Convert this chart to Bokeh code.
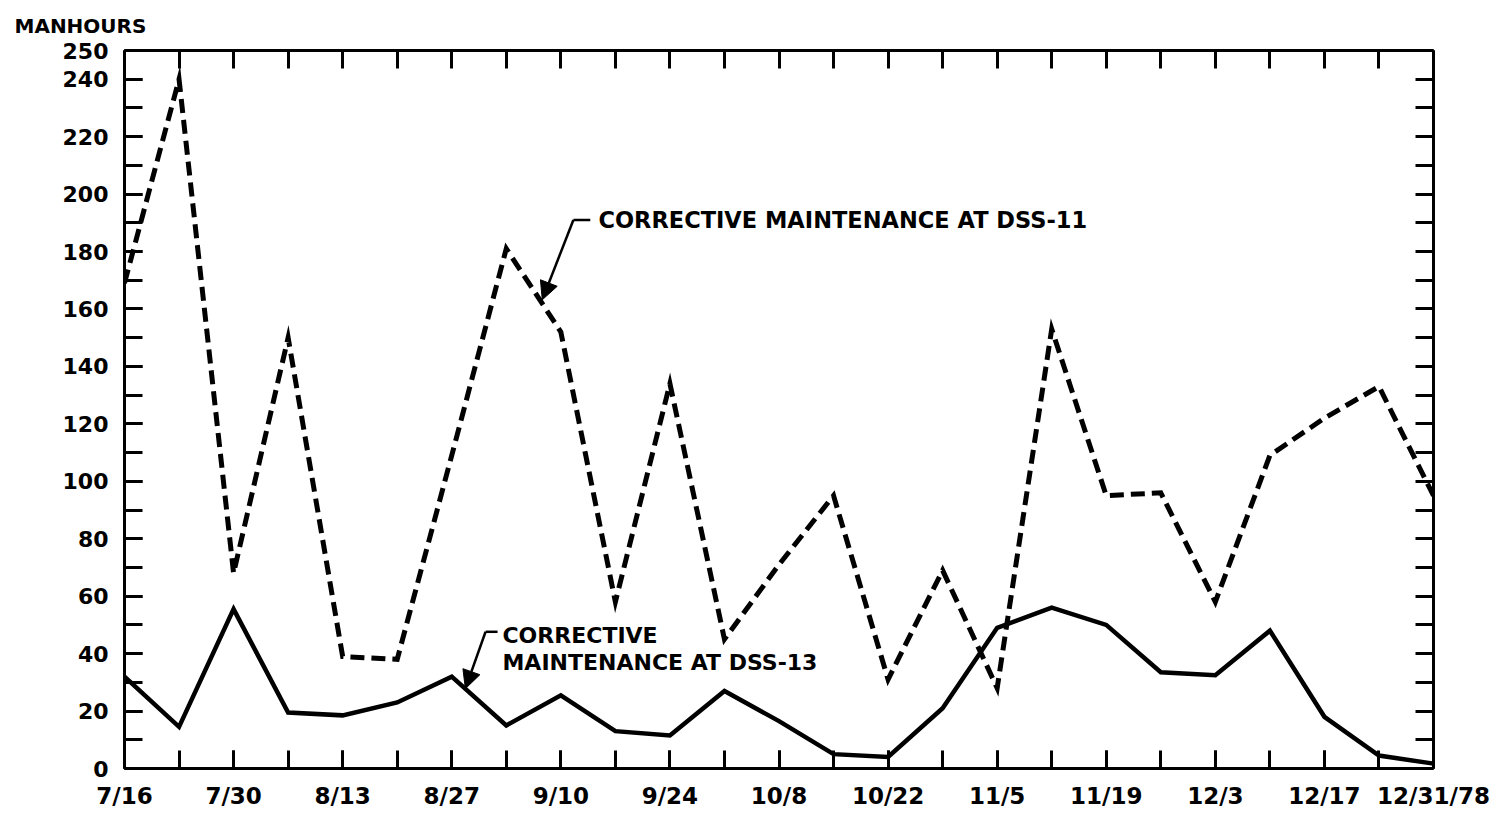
from bokeh.plotting import figure
from bokeh.models import LinearAxis, FixedTicker, Label, Arrow, NormalHead, Range1d
from bokeh.embed import file_html
from bokeh.resources import INLINE

# ---- data ----
weeks = list(range(25))  # weekly from 7/16 to 12/31/78
date_labels = ["7/16", "7/30", "8/13", "8/27", "9/10", "9/24", "10/8",
               "10/22", "11/5", "11/19", "12/3", "12/17", "12/31/78"]
dss11 = [169, 240, 68, 150, 39, 38, 109, 181, 152, 58, 134, 45, 71,
         95, 31, 69, 28, 153, 95, 96, 58, 109, 122, 133, 95]
dss13 = [32, 14.5, 55.5, 19.5, 18.5, 23, 32, 15, 25.5, 13, 11.5, 27, 16.5,
         5, 4, 21, 49, 56, 50, 33.5, 32.5, 48, 18, 4.5, 1.7]
y_major = [0, 20, 40, 60, 80, 100, 120, 140, 160, 180, 200, 220, 240, 250]
y_minor = list(range(0, 251, 10))

label11 = "CORRECTIVE MAINTENANCE AT  DSS-11"
label13a = "CORRECTIVE"
label13b = "MAINTENANCE AT DSS-13"

FONT = "DejaVu Sans"

p = figure(width=1499, height=811, output_backend="svg", toolbar_location=None,
           x_range=Range1d(0, 24), y_range=Range1d(0, 250),
           x_axis_location=None, y_axis_location=None,
           min_border_left=124, min_border_right=66, min_border_top=50, min_border_bottom=41)
p.grid.visible = False
p.outline_line_color = None
p.background_fill_color = "white"
p.border_fill_color = "white"

p.title.text = "MANHOURS"
p.title.align = "left"
p.title.offset = -110
p.title.text_font = FONT
p.title.text_font_style = "bold"
p.title.text_font_size = "20px"
p.title.text_color = "black"
p.title.standoff = 24
p.title.vertical_align = "middle"


def style_axis(ax, labels=True, size="22px"):
    ax.axis_line_width = 3
    ax.axis_line_color = "black"
    ax.major_tick_in = 18
    ax.major_tick_out = 0
    ax.minor_tick_in = 18
    ax.minor_tick_out = 0
    ax.major_tick_line_width = 3
    ax.minor_tick_line_width = 3
    ax.major_tick_line_color = "black"
    ax.minor_tick_line_color = "black"
    ax.major_label_text_font = FONT
    ax.major_label_text_font_style = "bold"
    if labels:
        ax.major_label_text_font_size = size
        ax.major_label_text_color = "black"
    else:
        ax.major_label_text_font_size = "0px"
        ax.major_label_text_color = None
        ax.major_label_standoff = 0


xticker = FixedTicker(ticks=list(range(0, 25, 2)), minor_ticks=weeks)
yticker = FixedTicker(ticks=y_major, minor_ticks=y_minor)

bottom = LinearAxis(ticker=xticker)
bottom.major_label_overrides = {i * 2: lab for i, lab in enumerate(date_labels)}
style_axis(bottom, True, "23px")
bottom.major_label_standoff = 14
p.add_layout(bottom, "below")

top = LinearAxis(ticker=FixedTicker(ticks=weeks))
style_axis(top, False)
p.add_layout(top, "above")

left = LinearAxis(ticker=yticker)
style_axis(left, True, "22px")
left.major_label_standoff = 16
p.add_layout(left, "left")

right = LinearAxis(ticker=FixedTicker(ticks=y_minor))
style_axis(right, False)
p.add_layout(right, "right")

# ---- series ----
p.line(weeks, dss11, line_color="black", line_width=5, line_dash="14 7", line_join="miter")
p.line(weeks, dss13, line_color="black", line_width=4.5, line_join="miter")

# ---- annotations ----
def text_label(x, y, t, size="22px"):
    p.add_layout(Label(x=x, y=y, text=t, text_font=FONT, text_font_style="bold",
                       text_font_size=size, text_baseline="middle", text_align="left",
                       text_color="black"))

text_label(8.69, 191.0, label11, "22.5px")
text_label(6.93, 46.2, label13a)
text_label(6.93, 36.8, label13b)

# leaders
p.line([8.54, 8.23], [191, 191], line_color="black", line_width=2.5)
p.add_layout(Arrow(end=NormalHead(size=18, fill_color="black", line_color="black"),
                   x_start=8.23, y_start=191, x_end=7.66, y_end=163.2,
                   line_color="black", line_width=2.5))
p.line([6.84, 6.62], [47.6, 47.6], line_color="black", line_width=2.5)
p.add_layout(Arrow(end=NormalHead(size=18, fill_color="black", line_color="black"),
                   x_start=6.62, y_start=47.6, x_end=6.25, y_end=27.8,
                   line_color="black", line_width=2.5))

open("out.html", "w").write(file_html(p, INLINE))
